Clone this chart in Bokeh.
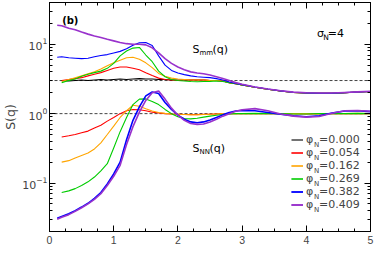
import math
from bokeh.plotting import figure
from bokeh.models import (Range1d, LinearAxis, Span, Label, Legend,
                          LegendItem, FixedTicker, CustomJSTickFormatter)
from bokeh.embed import file_html
from bokeh.resources import INLINE

nan = float("nan")

# wave number grid
q = [0.12, 0.19, 0.3, 0.4, 0.5, 0.6, 0.7, 0.8, 0.9, 1.0,
     1.1, 1.2, 1.3, 1.4, 1.5, 1.6, 1.7, 1.8, 1.9, 2.0,
     2.1, 2.2, 2.3, 2.4, 2.5, 2.6, 2.7, 2.8, 2.9, 3.0,
     3.2, 3.4, 3.6, 3.8, 4.0, 4.2, 4.4, 4.6, 4.8, 5.0]

phi_labels = ["0.000", "0.054", "0.162", "0.269", "0.382", "0.409"]
colors = ["#000000", "#ff0000", "#ffa500", "#00cc00", "#0000ff", "#9932cc"]

# S_mm(q) (shown shifted, plateau at 3)
smm_000 = [nan, 3.0, 2.95, 3.0, 3.05, 3.0, 3.05, 3.1, 3.05, 3.1,
           3.15, 3.1, 3.15, 3.2, 3.15, 3.15, 3.1, 3.1, 3.05, 3.05,
           3.05, 3.05, 3.05, 3.05, 3.0, 3.0, 2.95, 2.8, 2.7, 2.6,
           2.4, 2.25, 2.12, 2.02, 1.98, 1.96, 1.96, 2.0, 2.05, 2.08]
smm_054 = [nan, 3.0, 3.1, 3.2, 3.3, 3.5, 3.7, 3.9, 4.2, 4.5,
           4.7, 4.7, 4.5, 4.3, 3.9, 3.55, 3.25, 3.1, 3.05, 3.0,
           3.05, 3.05, 3.05, 3.05, 3.0, 3.0, 2.95, 2.8, 2.7, 2.6,
           2.4, 2.25, 2.12, 2.02, 1.98, 1.96, 1.96, 2.0, 2.05, 2.08]
smm_162 = [nan, 2.9, 3.1, 3.3, 3.5, 3.75, 4.0, 4.4, 4.9, 5.4,
           5.9, 6.4, 6.5, 6.1, 5.4, 4.6, 3.8, 3.45, 3.25, 3.15,
           3.1, 3.05, 3.05, 3.05, 3.0, 3.0, 2.95, 2.8, 2.7, 2.6,
           2.4, 2.25, 2.12, 2.02, 1.98, 1.96, 1.96, 2.0, 2.05, 2.08]
smm_269 = [nan, 2.8, 3.0, 3.15, 3.45, 3.7, 3.9, 4.1, 4.5, 5.3,
           6.8, 8.0, 8.8, 9.0, 7.0, 5.6, 4.1, 3.4, 3.1, 3.0,
           2.95, 2.9, 2.88, 2.9, 2.92, 2.95, 2.9, 2.8, 2.7, 2.6,
           2.4, 2.25, 2.12, 2.02, 1.98, 1.96, 1.96, 2.0, 2.05, 2.08]
smm_382 = [6.5, 6.6, 6.4, 6.3, 6.2, 6.3, 6.6, 6.9, 7.1, 7.5,
           7.9, 8.6, 9.7, 10.5, 10.6, 9.6, 6.8, 5.0, 4.2, 3.85,
           3.65, 3.5, 3.4, 3.35, 3.3, 3.2, 3.05, 2.85, 2.72, 2.62,
           2.42, 2.26, 2.13, 2.03, 1.99, 1.97, 1.97, 2.01, 2.05, 2.09]
smm_409 = [18.8, 18.5, 17.0, 16.2, 15.0, 14.0, 13.2, 12.5, 11.8, 11.2,
           10.6, 10.2, 10.0, 10.0, 9.8, 8.9, 7.5, 6.2, 5.3, 4.7,
           4.3, 4.0, 3.85, 3.75, 3.6, 3.4, 3.2, 3.0, 2.8, 2.65,
           2.42, 2.27, 2.14, 2.04, 2.0, 1.98, 1.98, 2.02, 2.06, 2.1]

# S_NN(q)
snn_054 = [nan, 0.46, 0.48, 0.5, 0.53, 0.56, 0.62, 0.68, 0.78, 0.88,
           1.0, 1.1, 1.15, 1.14, 1.1, 1.05, 1.02, 1.0, 0.99, 0.98,
           0.97, 0.97, 0.97, 0.98, 0.98, 0.99, 1.0, 1.0, 1.0, 1.0,
           1.0, 1.0, 1.0, 1.0, 0.99, 1.0, 1.0, 1.0, 1.0, 1.0]
snn_162 = [nan, 0.2, 0.21, 0.23, 0.25, 0.27, 0.31, 0.38, 0.5, 0.66,
           0.88, 1.1, 1.32, 1.28, 1.18, 1.09, 1.04, 1.01, 0.99, 0.98,
           0.97, 0.96, 0.96, 0.97, 0.98, 0.99, 1.0, 1.0, 1.0, 1.0,
           1.0, 1.0, 1.0, 1.0, 1.0, 0.99, 1.0, 1.0, 1.01, 1.0]
snn_269 = [nan, 0.073, 0.077, 0.083, 0.092, 0.104, 0.122, 0.15, 0.19, 0.32,
           0.55, 0.88, 1.35, 1.62, 1.63, 1.5, 1.35, 1.15, 1.0, 0.9,
           0.85, 0.84, 0.86, 0.89, 0.92, 0.95, 0.97, 0.99, 1.0, 1.0,
           1.01, 1.0, 1.0, 0.99, 0.99, 1.0, 1.0, 1.0, 1.01, 1.0]
snn_382 = [0.031, 0.033, 0.036, 0.04, 0.045, 0.051, 0.06, 0.073, 0.097, 0.135,
           0.2, 0.42, 0.8, 1.25, 1.8, 2.05, 1.95, 1.45, 1.15, 0.95,
           0.83, 0.76, 0.74, 0.76, 0.81, 0.88, 0.96, 1.04, 1.09, 1.11,
           1.1, 1.04, 0.98, 0.93, 0.9, 0.93, 1.02, 1.09, 1.1, 1.07]
snn_409 = [0.03, 0.032, 0.035, 0.039, 0.044, 0.05, 0.058, 0.07, 0.092, 0.125,
           0.18, 0.36, 0.65, 1.05, 1.55, 2.0, 2.12, 1.62, 1.2, 0.95,
           0.8, 0.72, 0.7, 0.71, 0.76, 0.83, 0.92, 1.0, 1.08, 1.14,
           1.18, 1.1, 0.99, 0.92, 0.89, 0.91, 1.01, 1.1, 1.11, 1.08]

smm_series = [smm_000, smm_054, smm_162, smm_269, smm_382, smm_409]
snn_series = [None, snn_054, snn_162, snn_269, snn_382, snn_409]

# ---------------------------------------------------------------- figure
Y_LO, Y_HI = 0.02, 40.0
p = figure(width=374, height=259, x_range=Range1d(0, 5),
           y_range=Range1d(Y_LO, Y_HI), y_axis_type="log",
           output_backend="svg", toolbar_location=None,
           min_border_left=40, min_border_right=4,
           min_border_top=2, min_border_bottom=28)
p.xgrid.visible = False
p.ygrid.visible = False
p.outline_line_color = "#000000"
p.background_fill_color = "#ffffff"

x_major = [0, 1, 2, 3, 4, 5]
x_minor = [i * 0.25 for i in range(21)]
y_major = [0.1, 1, 10]
y_minor = [m * 10.0 ** e for e in (-2, -1, 0, 1) for m in range(2, 10)]

xt = FixedTicker(ticks=x_major, minor_ticks=x_minor)
yt = FixedTicker(ticks=y_major, minor_ticks=y_minor)


def style_axis(ax):
    ax.axis_line_color = "#000000"
    ax.major_tick_in = 6
    ax.major_tick_out = 0
    ax.minor_tick_in = 3
    ax.minor_tick_out = 0
    ax.major_tick_line_color = "#000000"
    ax.minor_tick_line_color = "#000000"


xa = p.xaxis[0]
xa.ticker = xt
style_axis(xa)
xa.major_label_text_font = "Liberation Sans"
xa.major_label_text_font_size = "10.5px"
xa.major_label_standoff = 4

ya = p.yaxis[0]
ya.ticker = yt
style_axis(ya)
ya.major_label_text_font = "DejaVu Sans"
ya.major_label_text_font_size = "11px"
ya.major_label_standoff = 2
ya.axis_label = "S(q)"
ya.axis_label_text_font = "DejaVu Sans"
ya.axis_label_text_font_size = "12.5px"
ya.axis_label_text_font_style = "normal"
ya.axis_label_standoff = 1

blank = CustomJSTickFormatter(code="return ''")
top = LinearAxis(ticker=xt, formatter=blank, major_label_standoff=0)
style_axis(top)
p.add_layout(top, "above")
right = LinearAxis(ticker=yt, formatter=blank, major_label_standoff=0)
style_axis(right)
p.add_layout(right, "right")

for v in (3, 1):
    p.add_layout(Span(location=v, dimension="width", line_color="#444444",
                      line_dash="3 2", line_width=1, level="underlay"))

renderers = []
for i in range(6):
    w = 1.6 if i == 5 else 1.1
    rs = [p.line(q, smm_series[i], line_color=colors[i], line_width=w)]
    if snn_series[i] is not None:
        rs.append(p.line(q, snn_series[i], line_color=colors[i],
                         line_width=1.6 if i >= 4 else 1.1))
    renderers.append(rs)

# legend built from three aligned legends: symbol, subscript, value
common = dict(orientation="vertical", glyph_height=13, label_height=13,
              spacing=0, padding=0, margin=0, border_line_alpha=0,
              background_fill_alpha=0, label_text_font="DejaVu Sans")

leg_sym = Legend(items=[LegendItem(label="\u03c6", renderers=rs) for rs in renderers],
                 location=(242, 20), glyph_width=12, label_standoff=3,
                 label_text_font_size="11px", **common)
leg_sub = Legend(items=[LegendItem(label="N", renderers=[rs[0]]) for rs in renderers],
                 location=(265, 15), glyph_width=0, label_standoff=0,
                 label_text_font_size="7px", **common)
leg_val = Legend(items=[LegendItem(label="=" + lab, renderers=[rs[0]])
                        for lab, rs in zip(phi_labels, renderers)],
                 location=(270, 20), glyph_width=0, label_standoff=0,
                 label_text_font_size="11px", **common)
for lg in (leg_sym, leg_sub, leg_val):
    p.add_layout(lg)

# pixel -> data helpers for text placement (frame: x 40..370, y 2..231)
FRAME_L, FRAME_R, FRAME_T, FRAME_B = 40.0, 370.0, 2.0, 231.0


def qx(px):
    return (px - FRAME_L) / (FRAME_R - FRAME_L) * 5.0


def sy(py):
    span = math.log10(Y_HI) - math.log10(Y_LO)
    return 10 ** (math.log10(Y_LO) + (FRAME_B - py) / (FRAME_B - FRAME_T) * span)


FONT = "DejaVu Sans"


def txt(px, py, s, size, **kw):
    opts = dict(x=qx(px), y=sy(py), text=s, text_font=FONT,
                text_font_size=size, text_baseline="alphabetic",
                text_color="#000000")
    opts.update(kw)
    p.add_layout(Label(**opts))


# panel tag and parameter
txt(53, 20, "(b)", "10px", text_font_style="bold")
txt(315, 33.3, "\u03c3", "11px")
txt(321.5, 36.5, "N", "7.5px")
txt(326, 33.3, "=4", "11px")

# curve annotations
txt(187, 49.3, "S", "11px")
txt(194.2, 52.5, "mm", "7px")
txt(207.6, 49.3, "(q)", "11px")
txt(187, 148.3, "S", "11px")
txt(194.2, 151.5, "NN", "7px")
txt(204.5, 148.3, "(q)", "11px")

# x-axis title
txt(205, 252, "q", "12px", text_align="center")

open("out.html", "w").write(file_html(p, INLINE))
